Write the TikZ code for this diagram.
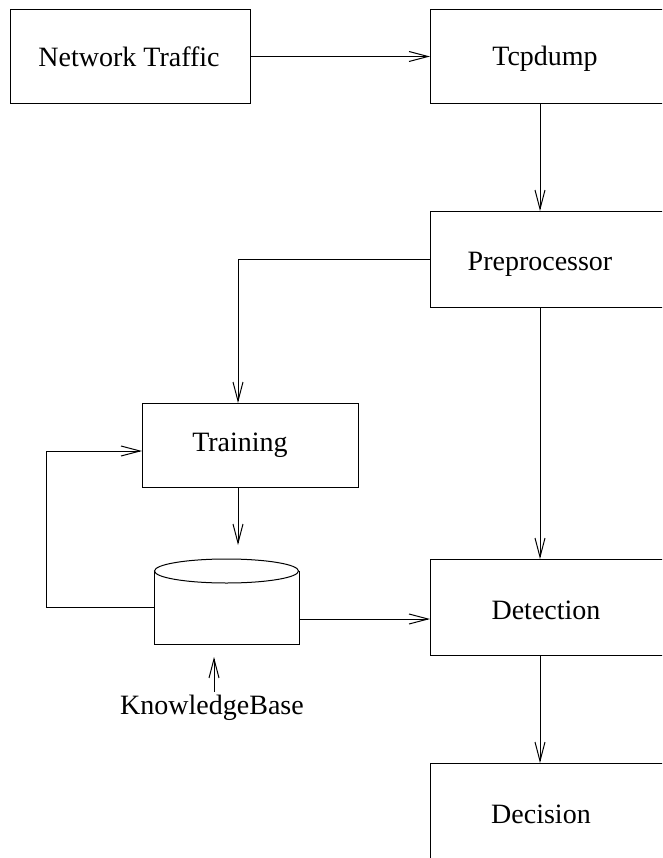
\documentclass[tikz,border=0pt]{standalone}
\usepackage{fontspec}
\setmainfont{Liberation Serif}
\usetikzlibrary{arrows.meta,calc}
\begin{document}
\begin{tikzpicture}[x=1pt, y=-1pt,
  line width=1pt,
  box/.style={draw, rectangle, inner sep=0pt, anchor=north west},
  lbl/.style={font=\fontsize{28}{32}\selectfont, anchor=base, inner sep=0pt},
  arr/.style={-{Straight Barb[length=19pt, width=10pt, line width=1pt]}},
  ]
  \useasboundingbox (0,0) rectangle (662,858);
  \clip (0,0) rectangle (662,858);

  % column guides
  \coordinate (colR) at (540,0);
  \coordinate (colL) at (238,0);

  % boxes
  \node[box, minimum width=240pt, minimum height=94pt] (nt)  at (10,9)   {};
  \node[box, minimum width=260pt, minimum height=94pt] (tcp) at (430,9)  {};
  \node[box, minimum width=260pt, minimum height=96pt] (pre) at (430,211) {};
  \node[box, minimum width=216pt, minimum height=84pt] (trn) at (142,403) {};
  \node[box, minimum width=260pt, minimum height=96pt] (det) at (430,559) {};
  \node[box, minimum width=260pt, minimum height=120pt] (dec) at (430,763) {};

  % knowledge base cylinder
  \node[inner sep=0pt, minimum width=144pt, minimum height=84pt, anchor=north west] (kb) at (154,559) {};
  \path (kb.north west) ++(0,12) coordinate (kbtl)
        (kb.north east) ++(0,12) coordinate (kbtr);
  \draw (kbtl) -- (kb.south west) -- (kb.south east) -- (kbtr);
  \draw ($(kbtl)!0.5!(kbtr)$) ellipse [x radius=72pt, y radius=12pt];

  % texts
  \node[lbl] (tnt)  at (129,67)  {Network Traffic};
  \node[lbl] (ttcp) at (545,66)  {Tcpdump};
  \node[lbl] (tpre) at (540,271) {Preprocessor};
  \node[lbl] (ttrn) at (240,451) {Training};
  \node[lbl] (tdet) at (546,619) {Detection};
  \node[lbl] (tdec) at (541,823) {Decision};
  \node[lbl] (tkb)  at (212,714) {KnowledgeBase};

  % connectors
  \coordinate (fbTop) at (46,451);
  \coordinate (fbLow) at (46,607);
  \coordinate (kbOut) at (0,619);
  \coordinate (kbTip) at (214,657);
  \coordinate (kbTail) at (214,692);

  \draw[arr] (nt.east) -- (tcp.west);
  \draw[arr] (colR |- tcp.south) -- (colR |- pre.north);
  \draw[arr] (pre.west) -| (colL |- trn.north);
  \draw[arr, shorten >=14pt] (colL |- trn.south) -- (colL |- kb.north);
  \draw[arr] (kb.west |- fbLow) -- (fbLow) -- (fbTop) -- (trn.west |- fbTop);
  \draw[arr] (kb.east |- kbOut) -- (det.west |- kbOut);
  \draw[arr] (colR |- pre.south) -- (colR |- det.north);
  \draw[arr] (colR |- det.south) -- (colR |- dec.north);
  \draw[arr] (kbTail) -- (kbTip);
\end{tikzpicture}
\end{document}
